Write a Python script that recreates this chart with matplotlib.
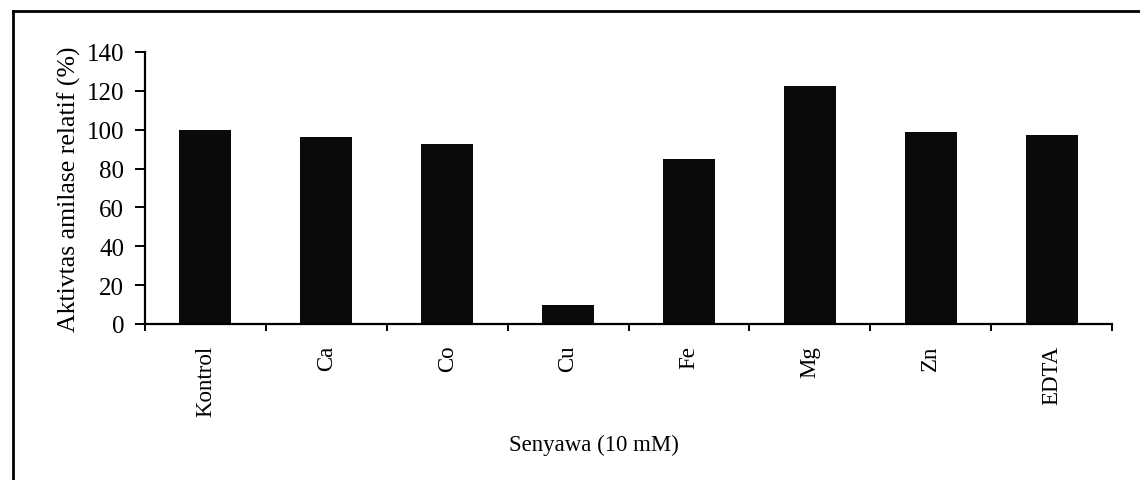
import matplotlib
matplotlib.use("Agg")
import matplotlib.pyplot as plt
from matplotlib.lines import Line2D
import numpy as np

categories = ["Kontrol", "Ca", "Co", "Cu", "Fe", "Mg", "Zn", "EDTA"]
values = [100, 96.5, 92.5, 10, 85, 122.5, 98.8, 97.4]
yticks = [0, 20, 40, 60, 80, 100, 120, 140]

plt.rcParams['font.family'] = ['Liberation Serif', 'DejaVu Serif']

fig = plt.figure(figsize=(11.4, 4.81), dpi=100)
ax = fig.add_axes([145/1140, (481-325)/481, (1112-145)/1140, (325-53)/481])

x = np.arange(len(categories))
ax.bar(x, values, width=0.43, color='#0a0a0a')

ax.set_xlim(-0.5, len(categories) - 0.5)
ax.set_ylim(0, 140)
ax.set_yticks(yticks)
ax.set_yticklabels([str(v) for v in yticks], fontsize=18)
ax.set_xticks(x)
ax.set_xticklabels(categories, rotation=90, fontsize=16.5, va='top')
ax.set_xticks(np.arange(len(categories) + 1) - 0.5, minor=True)

for s in ['top', 'right']:
    ax.spines[s].set_visible(False)
for s in ['left', 'bottom']:
    ax.spines[s].set_linewidth(1.6)
    ax.spines[s].set_color('black')

ax.tick_params(axis='y', direction='out', length=7, width=1.4, pad=8)
ax.tick_params(axis='x', which='major', length=0, pad=15)
ax.tick_params(axis='x', which='minor', direction='out', length=5, width=1.4)

ax.set_ylabel("Aktivtas amilase relatif (%)", fontsize=18.5, labelpad=4)
fig.text(594/1140, 1 - 445/481, "Senyawa (10 mM)", fontsize=16.5, ha='center', va='center')

# outer frame (left and top edges)
fig.add_artist(Line2D([12.5/1140, 12.5/1140], [0, 1 - 11.5/481], transform=fig.transFigure,
                      color='black', linewidth=2.0))
fig.add_artist(Line2D([12.5/1140, 1], [1 - 11.5/481, 1 - 11.5/481], transform=fig.transFigure,
                      color='black', linewidth=2.0))

fig.savefig("out.png", dpi=100)
